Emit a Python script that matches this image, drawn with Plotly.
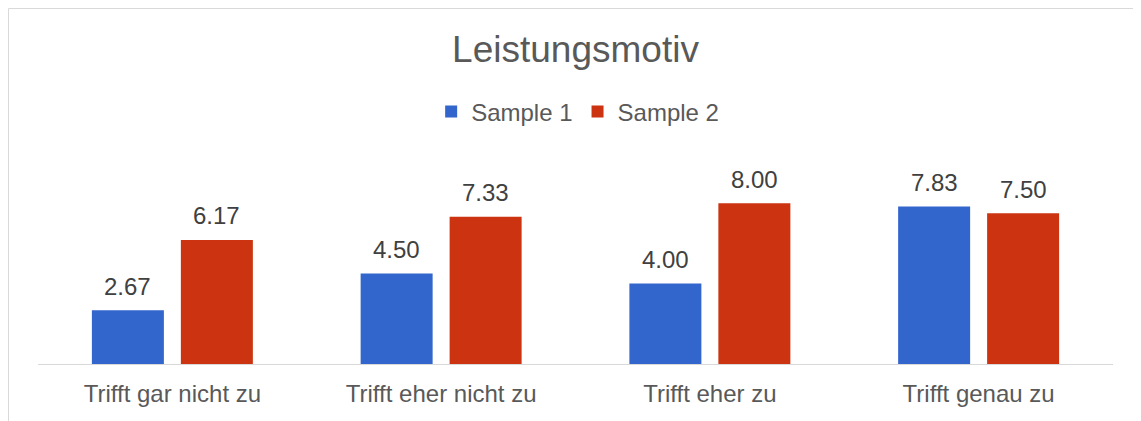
import plotly.graph_objects as go

categories = ["Trifft gar nicht zu", "Trifft eher nicht zu", "Trifft eher zu", "Trifft genau zu"]
sample1 = [2.67, 4.50, 4.00, 7.83]
sample2 = [6.17, 7.33, 8.00, 7.50]
series_names = ["Sample 1", "Sample 2"]
title_text = "Leistungsmotiv"

FONT = "Liberation Sans, Arial, sans-serif"
W, H = 1141, 421
ML, MR, MB, MT = 30, 36, 65, 155
plot_w = W - ML - MR
plot_h = H - MT - MB
BARGAP, GROUPGAP = 0.3377, 0.191

colors = ["#3366CC", "#CC3311"]
series = [sample1, sample2]

fig = go.Figure()
for name, vals, color in zip(series_names, series, colors):
    fig.add_trace(go.Bar(
        x=categories, y=vals, name=name,
        marker=dict(color=color, line=dict(width=0)),
        cliponaxis=False,
    ))

# data labels placed above each bar
cat_w = plot_w / len(categories)
slot = cat_w * (1 - BARGAP) / len(series)
for i, vals in enumerate(series):
    dx = (i - (len(series) - 1) / 2) * slot
    for c, v in zip(categories, vals):
        fig.add_annotation(x=c, y=v, xref="x", yref="y", text=f"{v:.2f}",
                           showarrow=False, xshift=dx, yshift=24,
                           xanchor="center", yanchor="middle",
                           font=dict(family=FONT, size=24, color="#404040"))

fig.update_layout(
    width=W, height=H,
    margin=dict(l=ML, r=MR, t=MT, b=MB, pad=0),
    paper_bgcolor="white", plot_bgcolor="white",
    barmode="group", bargap=BARGAP, bargroupgap=GROUPGAP,
    title=dict(text=title_text, x=0.5, xref="paper", xanchor="center",
               y=1 - 41 / H, yref="container", yanchor="middle",
               font=dict(family=FONT, size=37, color="#595959")),
    legend=dict(orientation="h", x=0.502, xanchor="center",
                y=(H - MB - 104) / plot_h, yanchor="middle",
                font=dict(family=FONT, size=24, color="#595959"),
                bgcolor="rgba(0,0,0,0)"),
    xaxis=dict(showline=True, linecolor="#D9D9D9", linewidth=1, showgrid=False,
               ticks="", ticklabelstandoff=8,
               tickfont=dict(family=FONT, size=24, color="#595959")),
    yaxis=dict(range=[0, 10], visible=False, showgrid=False, zeroline=False),
    showlegend=True,
)

fig.add_shape(type="rect", xref="paper", yref="paper",
              x0=(0.5 - ML) / plot_w, x1=1.3,
              y0=-1.0, y1=1 + (MT - 0.5) / plot_h,
              line=dict(color="#D9D9D9", width=1), fillcolor="rgba(0,0,0,0)", layer="below")

fig.write_html("out.html")
